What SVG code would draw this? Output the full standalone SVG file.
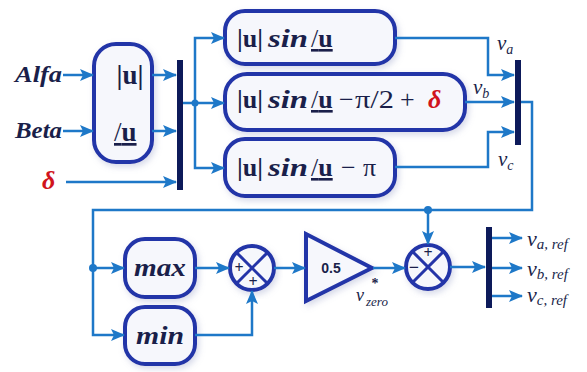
<svg xmlns="http://www.w3.org/2000/svg" width="587" height="372" viewBox="0 0 587 372">
  <defs>
    <marker id="arr" viewBox="0 0 14 12" refX="13" refY="6" markerWidth="14" markerHeight="12" markerUnits="userSpaceOnUse" orient="auto">
      <path d="M0,0 L14,6 L0,12 L3,6 z" fill="#1e78c8"/>
    </marker>
    <filter id="sh" x="-20%" y="-20%" width="140%" height="140%">
      <feDropShadow dx="2" dy="3" stdDeviation="3" flood-color="#8a93c0" flood-opacity="0.35"/>
    </filter>
  </defs>
  <style>
    .w { fill: none; stroke: #1e78c8; stroke-width: 2.5; }
    .box { fill: #f6f7fc; stroke: #2434a8; stroke-width: 4; filter: url(#sh); }
    .bus { fill: #0d1a5a; }
    .dot { fill: #1e78c8; }
    .b { font-weight: bold; }
    .i { font-style: italic; }
    .red { fill: #d0141c; }
    .x { stroke: #2434a8; stroke-width: 3; }
  </style>

  <rect width="587" height="372" fill="#ffffff"/>

  <g font-family="Liberation Serif, Times New Roman, serif" fill="#1a1f4a">
  <!-- input labels -->
  <g id="in-alfa">
    <text class="b i" x="15" y="82" font-size="24" textLength="47" lengthAdjust="spacingAndGlyphs">Alfa</text>
  </g>
  <g id="in-beta">
    <text class="b i" x="15" y="138" font-size="24" textLength="47" lengthAdjust="spacingAndGlyphs">Beta</text>
  </g>
  <g id="in-delta">
    <text class="b i red" x="42" y="189" font-size="26">δ</text>
  </g>

  <!-- polar conversion -->
  <g id="polar">
    <rect class="box" x="94" y="44" width="58" height="118" rx="22"/>
    <text class="b" x="130" y="84" font-size="27" text-anchor="middle">|u|</text>
    <text x="114" y="141" font-size="27" text-decoration="underline">/<tspan class="b">u</tspan></text>
  </g>

  <!-- first bus -->
  <g id="bus1"><rect class="bus" x="177" y="60" width="6" height="130"/></g>

  <!-- sine blocks -->
  <g id="sin-a">
    <rect class="box" x="225" y="11" width="170" height="53" rx="20"/>
    <text class="b" x="237" y="47" font-size="26" textLength="26" lengthAdjust="spacingAndGlyphs">|u|</text>
    <text class="i b" x="268" y="47" font-size="26" textLength="40" lengthAdjust="spacingAndGlyphs">sin</text>
    <text x="311" y="47" font-size="26" text-decoration="underline">/<tspan class="b">u</tspan></text>
  </g>
  <g id="sin-b">
    <rect class="box" x="225" y="74" width="240" height="56" rx="22"/>
    <text class="b" x="237" y="108" font-size="26" textLength="26" lengthAdjust="spacingAndGlyphs">|u|</text>
    <text class="i b" x="268" y="108" font-size="26" textLength="40" lengthAdjust="spacingAndGlyphs">sin</text>
    <text x="311" y="108" font-size="26" text-decoration="underline">/<tspan class="b">u</tspan></text>
    <text x="339" y="108" font-size="26">−</text>
    <text x="355" y="108" font-size="26" textLength="39" lengthAdjust="spacingAndGlyphs">π/2</text>
    <text x="400" y="108" font-size="26">+</text>
    <text class="b i red" x="428" y="108" font-size="26">δ</text>
  </g>
  <g id="sin-c">
    <rect class="box" x="225" y="139" width="170" height="57" rx="20"/>
    <text class="b" x="237" y="176" font-size="26" textLength="26" lengthAdjust="spacingAndGlyphs">|u|</text>
    <text class="i b" x="268" y="176" font-size="26" textLength="40" lengthAdjust="spacingAndGlyphs">sin</text>
    <text x="311" y="176" font-size="26" text-decoration="underline">/<tspan class="b">u</tspan></text>
    <text x="341" y="176" font-size="26">−</text>
    <text x="363" y="176" font-size="26">π</text>
  </g>

  <!-- phase labels -->
  <text class="i" x="497" y="50" font-size="21">v<tspan font-size="14" dy="4">a</tspan></text>
  <text class="i" x="473" y="94" font-size="21">v<tspan font-size="14" dy="4">b</tspan></text>
  <text class="i" x="498" y="166" font-size="21">v<tspan font-size="14" dy="4">c</tspan></text>

  <!-- second bus -->
  <g id="bus2"><rect class="bus" x="515" y="60" width="6" height="85"/></g>

  <!-- min / max -->
  <g id="max">
    <rect class="box" x="125" y="239" width="70" height="58" rx="20"/>
    <text class="b i" x="160" y="276" font-size="26" text-anchor="middle" textLength="52" lengthAdjust="spacingAndGlyphs">max</text>
  </g>
  <g id="min">
    <rect class="box" x="125" y="307" width="70" height="57" rx="20"/>
    <text class="b i" x="160" y="344" font-size="26" text-anchor="middle" textLength="48" lengthAdjust="spacingAndGlyphs">min</text>
  </g>

  <!-- summing junction -->
  <g id="sum1">
    <circle class="box" cx="252" cy="268" r="22"/>
    <line class="x" x1="236.5" y1="252.5" x2="267.5" y2="283.5"/>
    <line class="x" x1="267.5" y1="252.5" x2="236.5" y2="283.5"/>
    <text class="b" x="239" y="273" font-size="16" text-anchor="middle">+</text>
    <text class="b" x="253" y="287" font-size="16" text-anchor="middle">+</text>
  </g>

  <!-- gain -->
  <g id="gain">
    <path class="box" d="M306,234 L372,268 L306,301 z" stroke-linejoin="miter"/>
    <text x="331" y="273" font-family="Liberation Sans, Arial, sans-serif" font-size="14" font-weight="bold" text-anchor="middle">0.5</text>
    <text class="i" x="356" y="301" font-size="18">v</text>
    <text class="b" x="375" y="288" font-size="14" text-anchor="middle">*</text>
    <text class="i" x="366" y="306" font-size="13">zero</text>
  </g>

  <!-- difference junction -->
  <g id="sum2">
    <circle class="box" cx="428" cy="267" r="22"/>
    <line class="x" x1="412.5" y1="251.5" x2="443.5" y2="282.5"/>
    <line class="x" x1="443.5" y1="251.5" x2="412.5" y2="282.5"/>
    <text class="b" x="428" y="258" font-size="16" text-anchor="middle">+</text>
    <text class="b" x="414" y="273" font-size="18" text-anchor="middle">−</text>
  </g>

  <!-- output bus -->
  <g id="bus3"><rect class="bus" x="486" y="227" width="6" height="81"/></g>
  <g id="out-labels">
    <text class="i" x="527" y="246" font-size="22">v<tspan font-size="15" dy="3">a, ref</tspan></text>
    <text class="i" x="527" y="276" font-size="22">v<tspan font-size="15" dy="3">b, ref</tspan></text>
    <text class="i" x="527" y="302" font-size="22">v<tspan font-size="15" dy="3">c, ref</tspan></text>
  </g>
  </g>

  <!-- connectors -->
  <g id="wires">
    <path class="w" d="M63,75 H93" marker-end="url(#arr)"/>
    <path class="w" d="M63,131 H93" marker-end="url(#arr)"/>
    <path class="w" d="M66,182 H176" marker-end="url(#arr)"/>
    <path class="w" d="M152,75 H176" marker-end="url(#arr)"/>
    <path class="w" d="M152,131 H176" marker-end="url(#arr)"/>

    <path class="w" d="M183,103 H224" marker-end="url(#arr)"/>
    <path class="w" d="M195,103 V38 H224" marker-end="url(#arr)"/>
    <path class="w" d="M195,103 V168 H224" marker-end="url(#arr)"/>
    <circle class="dot" cx="195" cy="103" r="3.5"/>

    <path class="w" d="M395,38 H488 V75 H514" marker-end="url(#arr)"/>
    <path class="w" d="M465,102 H514" marker-end="url(#arr)"/>
    <path class="w" d="M395,167 H488 V132 H514" marker-end="url(#arr)"/>

    <path class="w" d="M521,102 H532 V210 H93 V335 H124" marker-end="url(#arr)"/>
    <path class="w" d="M93,268 H124" marker-end="url(#arr)"/>
    <circle class="dot" cx="93" cy="268" r="4"/>
    <path class="w" d="M428,210 V244" marker-end="url(#arr)"/>
    <circle class="dot" cx="428" cy="210" r="4"/>

    <path class="w" d="M195,268 H229" marker-end="url(#arr)"/>
    <path class="w" d="M195,335 H252 V291" marker-end="url(#arr)"/>
    <path class="w" d="M274,268 H305" marker-end="url(#arr)"/>
    <path class="w" d="M373,268 H405" marker-end="url(#arr)"/>
    <path class="w" d="M450,267 H485" marker-end="url(#arr)"/>

    <path class="w" d="M492,238 H522" marker-end="url(#arr)"/>
    <path class="w" d="M492,268 H522" marker-end="url(#arr)"/>
    <path class="w" d="M492,296 H522" marker-end="url(#arr)"/>
  </g>
</svg>
